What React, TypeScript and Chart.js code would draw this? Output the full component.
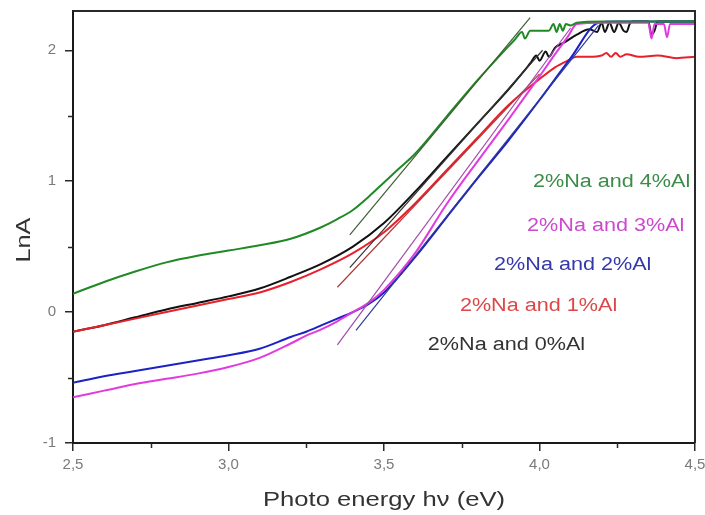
import { useEffect, useRef } from "react";
import { Chart, registerables } from "chart.js";

Chart.register(...registerables);

// Axis ticks
const xTicks = [2.5, 3.0, 3.5, 4.0, 4.5];
const xMinorTicks = [2.75, 3.25, 3.75, 4.25];
const yTicks = [-1, 0, 1, 2];
const yMinorTicks = [-0.5, 0.5, 1.5];

// 2%Na and 4%Al
const energy4 = [2.5, 2.6, 2.7, 2.8, 2.9, 3.0, 3.1, 3.2, 3.3, 3.35, 3.4, 3.45, 3.5, 3.55, 3.6, 3.7, 3.8, 3.9, 3.92, 3.944, 3.953, 3.97, 4.03, 4.045, 4.055, 4.065, 4.075, 4.085, 4.1, 4.12, 4.2, 4.3, 4.4, 4.5];
const lnA4 = [0.14, 0.23, 0.31, 0.38, 0.43, 0.47, 0.51, 0.56, 0.65, 0.71, 0.78, 0.88, 0.99, 1.1, 1.21, 1.49, 1.77, 2.03, 2.08, 2.14, 2.09, 2.15, 2.15, 2.2, 2.14, 2.2, 2.15, 2.2, 2.19, 2.21, 2.22, 2.22, 2.22, 2.22];

// 2%Na and 0%Al
const energy0 = [2.5, 2.6, 2.7, 2.8, 2.9, 3.0, 3.1, 3.2, 3.3, 3.4, 3.5, 3.6, 3.7, 3.8, 3.9, 3.95, 3.97, 3.99, 4.0, 4.02, 4.03, 4.05, 4.08, 4.12, 4.16, 4.185, 4.2, 4.21, 4.225, 4.24, 4.255, 4.27, 4.28, 4.29, 4.3, 4.35, 4.36, 4.37, 4.38, 4.45, 4.5];
const lnA0 = [-0.15, -0.1, -0.04, 0.02, 0.07, 0.12, 0.18, 0.27, 0.37, 0.5, 0.68, 0.92, 1.18, 1.44, 1.7, 1.84, 1.9, 1.96, 1.92, 1.99, 1.95, 2.02, 2.06, 2.12, 2.16, 2.14, 2.21, 2.14, 2.21, 2.14, 2.21, 2.15, 2.14, 2.2, 2.22, 2.22, 2.12, 2.15, 2.22, 2.22, 2.22];

// 2%Na and 1%Al
const energy1 = [2.5, 2.6, 2.7, 2.8, 2.9, 3.0, 3.1, 3.2, 3.3, 3.4, 3.5, 3.6, 3.7, 3.8, 3.9, 4.0, 4.05, 4.09, 4.12, 4.16, 4.2, 4.215, 4.23, 4.245, 4.26, 4.28, 4.32, 4.38, 4.44, 4.5];
const lnA1 = [-0.15, -0.1, -0.05, 0.0, 0.05, 0.1, 0.15, 0.23, 0.33, 0.45, 0.61, 0.83, 1.08, 1.33, 1.58, 1.78, 1.87, 1.92, 1.95, 1.95, 1.96, 1.98, 1.95, 1.98, 1.95, 1.97, 1.95, 1.96, 1.94, 1.95];

// 2%Na and 3%Al
const energy3 = [2.5, 2.6, 2.7, 2.8, 2.9, 3.0, 3.1, 3.2, 3.25, 3.3, 3.35, 3.4, 3.45, 3.5, 3.6, 3.7, 3.8, 3.9, 4.0, 4.05, 4.09, 4.12, 4.2, 4.3, 4.35, 4.36, 4.37, 4.4, 4.41, 4.42, 4.5];
const lnA3 = [-0.65, -0.6, -0.55, -0.51, -0.47, -0.42, -0.35, -0.24, -0.18, -0.13, -0.07, 0.0, 0.07, 0.17, 0.45, 0.82, 1.15, 1.47, 1.8, 1.97, 2.1, 2.2, 2.21, 2.21, 2.21, 2.09, 2.2, 2.2, 2.1, 2.2, 2.2];

// 2%Na and 2%Al
const energy2 = [2.5, 2.6, 2.7, 2.8, 2.9, 3.0, 3.1, 3.2, 3.25, 3.3, 3.35, 3.4, 3.45, 3.5, 3.6, 3.7, 3.8, 3.9, 4.0, 4.1, 4.19, 4.25, 4.35, 4.5];
const lnA2 = [-0.54, -0.49, -0.45, -0.41, -0.37, -0.33, -0.28, -0.19, -0.15, -0.1, -0.05, 0.0, 0.06, 0.15, 0.42, 0.72, 1.02, 1.31, 1.62, 1.94, 2.21, 2.22, 2.22, 2.22];

// Linear fits of the absorption edge
const fitEnergy4 = [3.39, 3.97];
const fitLnA4 = [0.59, 2.25];
const fitEnergy0 = [3.39, 4.01];
const fitLnA0 = [0.34, 2.0];
const fitEnergy1 = [3.35, 4.0];
const fitLnA1 = [0.19, 1.82];
const fitEnergy3 = [3.35, 4.1];
const fitLnA3 = [-0.25, 2.17];
const fitEnergy2 = [3.41, 4.19];
const fitLnA2 = [-0.14, 2.19];

// Sample labels
const sampleLabels = [
  "2%Na and 4%Al",
  "2%Na and 3%Al",
  "2%Na and 2%Al",
  "2%Na and 1%Al",
  "2%Na and 0%Al",
];

const FONT = '"Liberation Sans", Arial, sans-serif';

const curveColors = ["#1f8a24", "#e03ae0", "#1c22c4", "#e8202c", "#111111"];
const fitColors = ["#3d5e34", "#a04aa8", "#2e3a9a", "#b03838", "#333333"];
const textColors = ["#3c8c48", "#cc48cc", "#3438a8", "#dc4848", "#333333"];
// label anchor: left edge (energy), vertical middle (LnA)
const labelAnchors = [
  [3.979, 0.99],
  [3.96, 0.66],
  [3.854, 0.36],
  [3.744, 0.05],
  [3.641, -0.25],
];

const zip = (xs: number[], ys: number[]) => xs.map((x, i) => ({ x, y: ys[i] }));

function stretchedText(
  ctx: CanvasRenderingContext2D,
  text: string,
  x: number,
  y: number,
  size: number,
  color: string,
  sx: number,
  align: CanvasTextAlign,
  rotate = false
) {
  ctx.save();
  ctx.translate(x, y);
  if (rotate) ctx.rotate(-Math.PI / 2);
  ctx.scale(sx, 1);
  ctx.font = `${size}px ${FONT}`;
  ctx.fillStyle = color;
  ctx.textAlign = align;
  ctx.textBaseline = "middle";
  ctx.fillText(text, 0, 0);
  ctx.restore();
}

const decorations = {
  id: "decorations",
  afterDraw(chart: any) {
    const { ctx, chartArea, scales } = chart;
    const xs = scales.x;
    const ys = scales.y;

    // frame top/right
    ctx.save();
    ctx.strokeStyle = "#2a2a2a";
    ctx.lineWidth = 2;
    ctx.beginPath();
    ctx.moveTo(chartArea.left, chartArea.top);
    ctx.lineTo(chartArea.right, chartArea.top);
    ctx.lineTo(chartArea.right, chartArea.bottom);
    ctx.stroke();

    // minor ticks
    ctx.lineWidth = 1.5;
    ctx.beginPath();
    xMinorTicks.forEach((v) => {
      const px = Math.round(xs.getPixelForValue(v)) + 0.5;
      ctx.moveTo(px, chartArea.bottom);
      ctx.lineTo(px, chartArea.bottom + 5);
    });
    yMinorTicks.forEach((v) => {
      const py = Math.round(ys.getPixelForValue(v)) + 0.5;
      ctx.moveTo(chartArea.left, py);
      ctx.lineTo(chartArea.left - 5, py);
    });
    ctx.stroke();
    ctx.restore();

    // sample labels
    sampleLabels.forEach((t, i) => {
      const [e, l] = labelAnchors[i];
      stretchedText(ctx, t, xs.getPixelForValue(e), ys.getPixelForValue(l), 18, textColors[i], 1.2, "left");
    });

    // axis titles
    stretchedText(ctx, "Photo energy h\u03bd (eV)", (chartArea.left + chartArea.right) / 2, 500, 21, "#333333", 1.22, "center");
    stretchedText(ctx, "LnA", 24, 240, 21, "#333333", 1.2, "center", true);
  },
};

const noLabelPadding = (s: any) => {
  s.paddingTop = 0;
  s.paddingBottom = 0;
  s.paddingLeft = 0;
  s.paddingRight = 0;
};

export default function App() {
  const canvasRef = useRef<HTMLCanvasElement | null>(null);

  useEffect(() => {
    const canvas = canvasRef.current;
    if (!canvas) return;

    const curves = [
      zip(energy4, lnA4),
      zip(energy3, lnA3),
      zip(energy2, lnA2),
      zip(energy1, lnA1),
      zip(energy0, lnA0),
    ];
    const fits = [
      zip(fitEnergy4, fitLnA4),
      zip(fitEnergy3, fitLnA3),
      zip(fitEnergy2, fitLnA2),
      zip(fitEnergy1, fitLnA1),
      zip(fitEnergy0, fitLnA0),
    ];

    const datasets: any[] = [];
    fits.forEach((d, i) => {
      datasets.push({
        label: sampleLabels[i] + " fit",
        data: d,
        borderColor: fitColors[i],
        borderWidth: 1.2,
        pointRadius: 0,
        tension: 0,
      });
    });
    curves.forEach((d, i) => {
      datasets.push({
        label: sampleLabels[i],
        data: d,
        borderColor: curveColors[i],
        borderWidth: 2,
        pointRadius: 0,
        cubicInterpolationMode: "monotone",
      });
    });

    const chart = new Chart(canvas, {
      type: "line",
      data: { datasets },
      options: {
        responsive: false,
        animation: false,
        events: [],
        layout: { padding: { top: 11, right: 10, left: 0, bottom: 0 } },
        plugins: { legend: { display: false }, tooltip: { enabled: false } },
        scales: {
          x: {
            type: "linear",
            min: 2.5,
            max: 4.5,
            afterBuildTicks: (s: any) => {
              s.ticks = xTicks.map((v) => ({ value: v }));
            },
            afterFit: (s: any) => {
              s.height = 72;
              noLabelPadding(s);
            },
            ticks: {
              color: "#7a7a7a",
              font: { family: FONT, size: 15 },
              padding: 5,
              maxRotation: 0,
              autoSkip: false,
              callback: (v: any) => Number(v).toFixed(1).replace(".", ","),
            },
            grid: {
              drawOnChartArea: false,
              drawTicks: true,
              tickLength: 8,
              color: "#2a2a2a",
              lineWidth: 1.5,
            },
            border: { display: true, color: "#1a1a1a", width: 2 },
          },
          y: {
            type: "linear",
            min: -1,
            max: 2.3,
            afterBuildTicks: (s: any) => {
              s.ticks = yTicks.map((v) => ({ value: v }));
            },
            afterFit: (s: any) => {
              s.width = 73;
              noLabelPadding(s);
            },
            ticks: {
              color: "#7a7a7a",
              font: { family: FONT, size: 15 },
              padding: 9,
              autoSkip: false,
              callback: (v: any) => String(v),
            },
            grid: {
              drawOnChartArea: false,
              drawTicks: true,
              tickLength: 8,
              color: "#2a2a2a",
              lineWidth: 1.5,
            },
            border: { display: true, color: "#1a1a1a", width: 2 },
          },
        },
      },
      plugins: [decorations],
    });

    return () => chart.destroy();
  }, []);

  return (
    <div style={{ position: "fixed", left: 0, top: 0, width: 705, height: 515, background: "#ffffff" }}>
      <canvas ref={canvasRef} width={705} height={515} style={{ display: "block" }} />
    </div>
  );
}
